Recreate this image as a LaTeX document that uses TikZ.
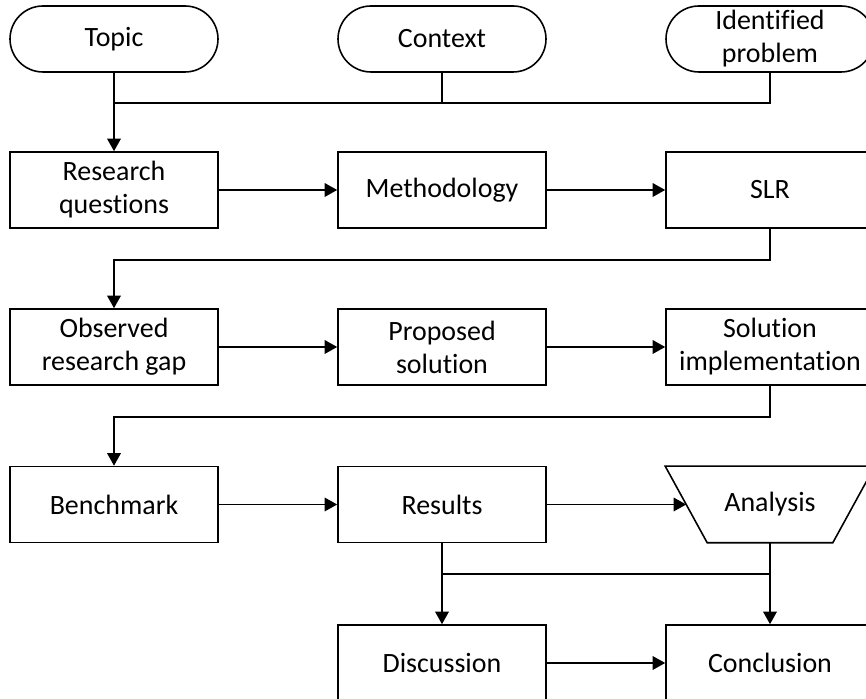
\documentclass[tikz,border=0pt]{standalone}
\usepackage{fontspec, tkz-euclide}
\setmainfont{Carlito}[Ligatures={NoCommon}, RawFeature={-liga;-clig;-dlig}]
\usetikzlibrary{arrows.meta}

\begin{document}
\begin{tikzpicture}[
  line width=0.9pt,
  every node/.style={font=\fontsize{15.9pt}{18.8pt}\selectfont, align=center},
  procbox/.style={draw, minimum width=4.16cm, minimum height=1.52cm, inner sep=1pt},
  termbox/.style={draw, rounded corners=0.66cm, minimum width=4.16cm, minimum height=1.32cm, inner sep=1pt},
  manualbox/.style={minimum width=4.16cm, minimum height=1.5cm, inner sep=1pt},
  arr/.style={-{Triangle[length=0.25cm, width=0.27cm]}}
]
\clip (0,0) rectangle (17.32,13.98);
\tkzDefPoints{2.28/11.92/J1, 2.28/8.78/J2, 2.28/5.64/J3, 8.84/2.50/J4}

% start
\node[termbox] (topic) at (2.28,13.2) {Topic};
\node[termbox] (ctx)   at (8.84,13.2) {Context};
\node[termbox] (prob)  at (15.4,13.2) {Identified\\problem};
% second row
\node[procbox] (rq)   at (2.28,10.18) {Research\\questions};
\node[procbox] (meth) at (8.84,10.18) {Methodology};
\node[procbox] (slr)  at (15.4,10.18) {SLR};
% third row
\node[procbox] (gap)  at (2.28,7.04) {Observed\\research gap};
\node[procbox] (prop) at (8.84,7.04) {Proposed\\solution};
\node[procbox] (impl) at (15.4,7.04) {Solution\\implementation};
% fourth row
\node[procbox]   (bench) at (2.28,3.89) {Benchmark};
\node[procbox]   (res)   at (8.84,3.89) {Results};
\node[manualbox] (ana)   at (15.4,3.89) {Analysis};
\draw (ana.north west) -- (ana.north east) -- ([xshift=-0.84cm]ana.south east)
  -- ([xshift=0.84cm]ana.south west) -- cycle;
\coordinate (anain) at ([xshift=0.42cm]ana.west);
% end
\node[procbox] (disc) at (8.84,0.72) {Discussion};
\node[procbox] (conc) at (15.4,0.72) {Conclusion};

\draw[arr] (topic) -- (rq);
\draw (prob) |- (J1);
\draw (ctx) -- (ctx |- J1);
\draw[arr] (rq) -- (meth);
\draw[arr] (meth) -- (slr);
\draw[arr] (slr) |- (J2) -- (gap);
\draw[arr] (gap) -- (prop);
\draw[arr] (prop) -- (impl);
\draw[arr] (impl) |- (J3) -- (bench);
\draw[arr] (bench) -- (res);
\draw[arr] (res) -- (anain);
\draw[arr] (res) -- (disc);
\draw[arr] (ana) -- (conc);
\draw (J4) -- (ana |- J4);
\draw[arr] (disc) -- (conc);
\end{tikzpicture}
\end{document}
